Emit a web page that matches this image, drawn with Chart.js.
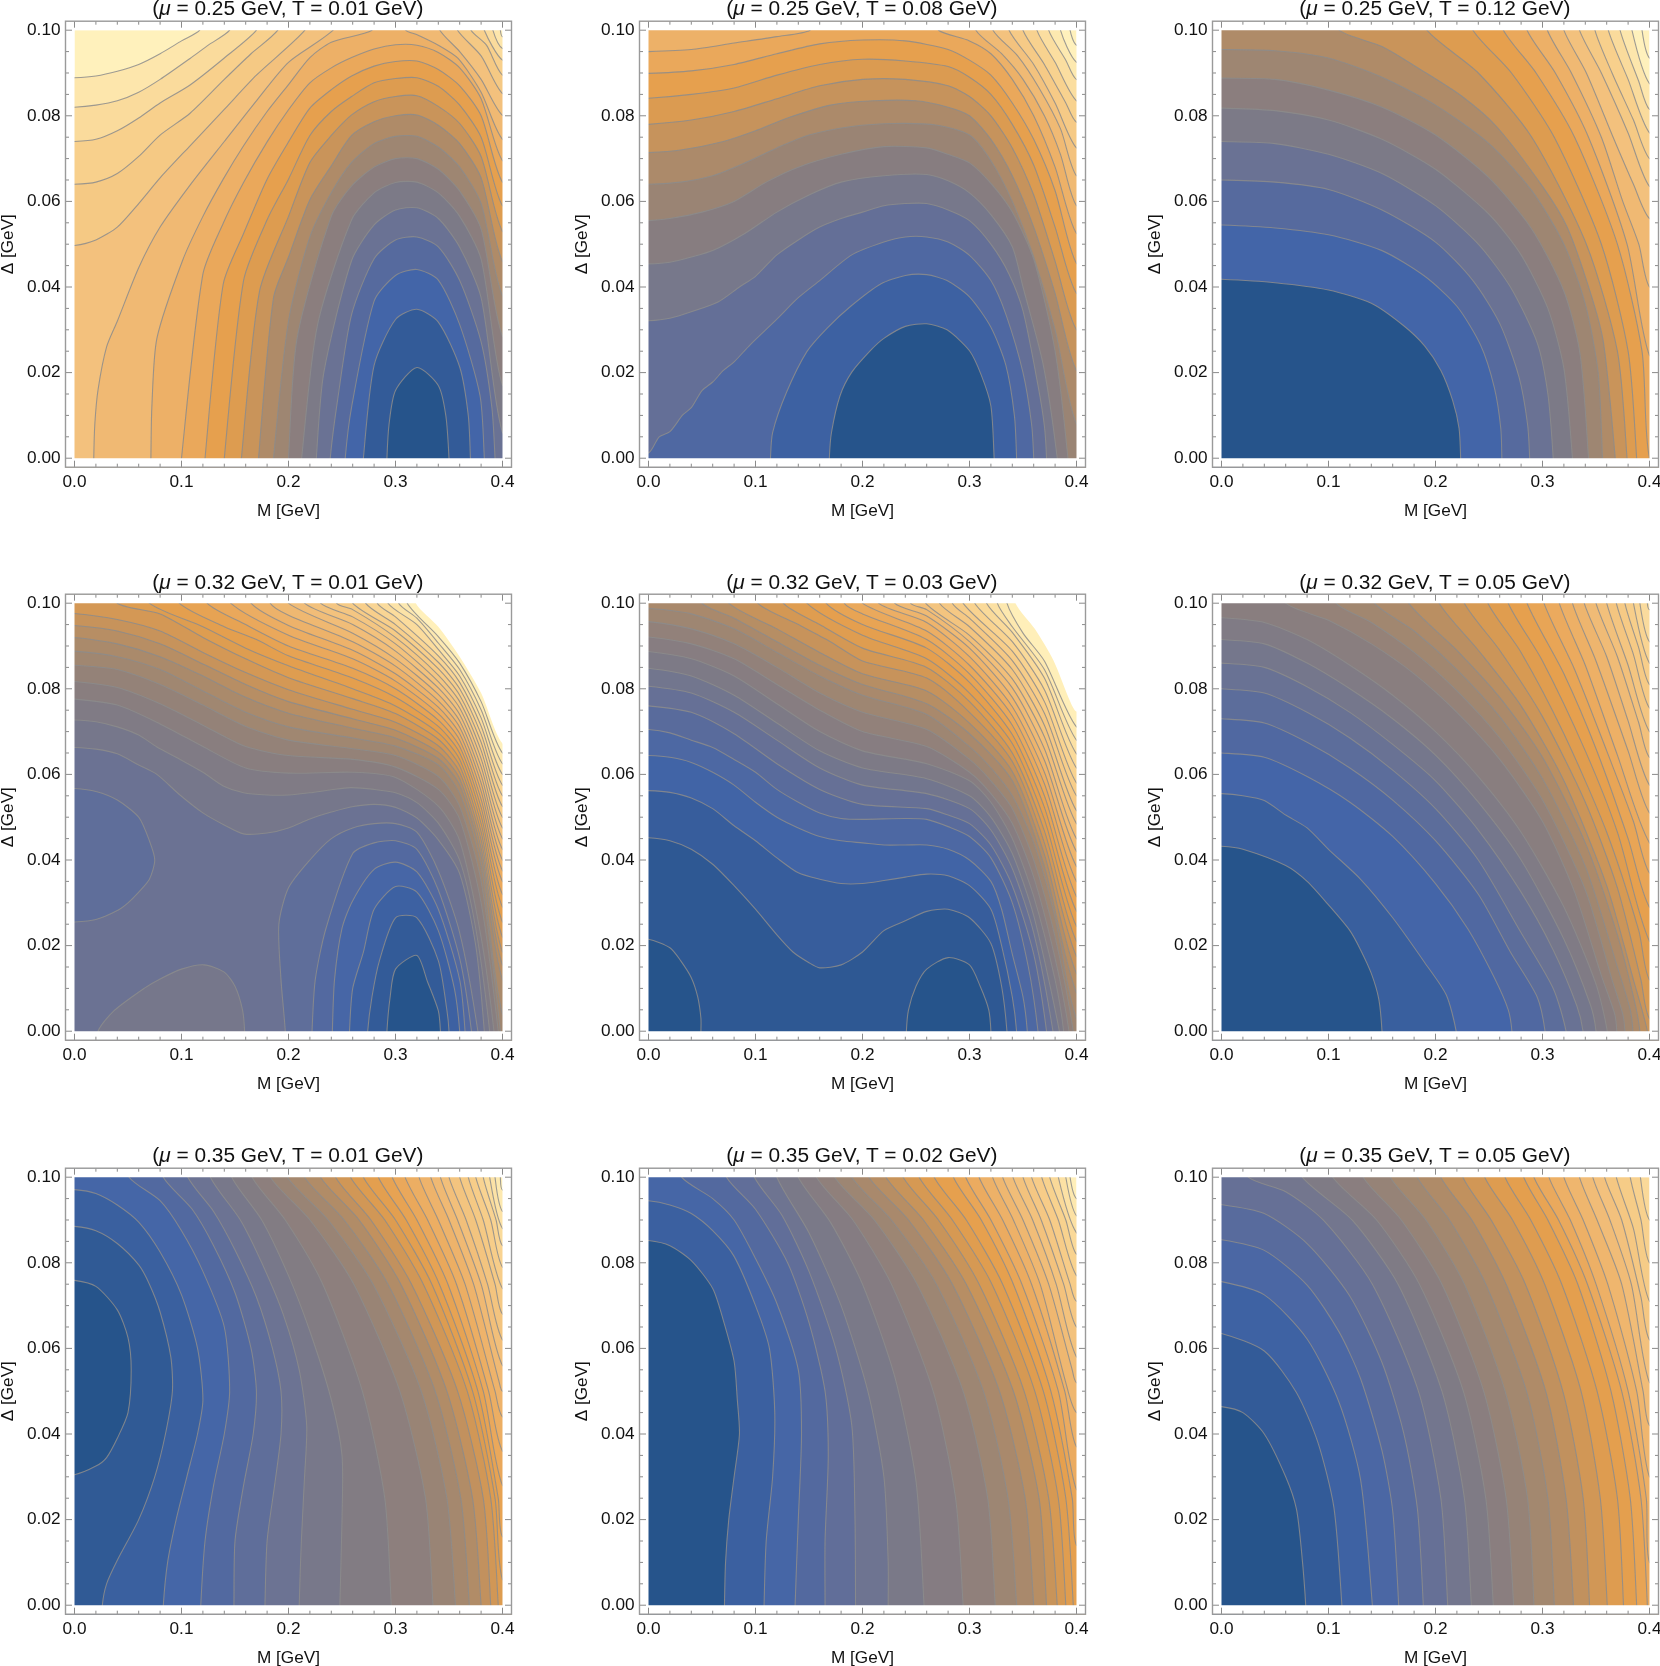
<!DOCTYPE html>
<html><head><meta charset="utf-8">
<script src="https://cdn.jsdelivr.net/npm/chart.js@4"></script>
<style>
html,body{margin:0;padding:0;background:#fff;width:1660px;height:1666px;overflow:hidden;position:relative}
canvas{position:absolute}
.ttl{position:absolute;width:446px;height:26px;line-height:26px;text-align:center;font:20.9px/26px "Liberation Sans",Arial,sans-serif;color:#111;white-space:nowrap}
</style></head><body>
<script>
// ---------- panel parameters ----------
const muValues=[0.25,0.25,0.25,0.32,0.32,0.32,0.35,0.35,0.35];
const tValues=[0.01,0.08,0.12,0.01,0.03,0.05,0.01,0.02,0.05];
const xMajorTicks=[0,0.1,0.2,0.3,0.4];
const yMajorTicks=[0,0.02,0.04,0.06,0.08,0.1];
const xMinorTicks=[0.02,0.04,0.06,0.08,0.12,0.14,0.16,0.18,0.22,0.24,0.26,0.28,0.32,0.34,0.36,0.38];
const yMinorTicks=[0.005,0.01,0.015,0.025,0.03,0.035,0.045,0.05,0.055,0.065,0.07,0.075,0.085,0.09,0.095];
const rampStops=[0,.05,.1,.15,.2,.25,.3,.35,.4,.45,.5,.55,.62,.72,.85,1];
const rampColors=['#26548b','#335b98','#4365a8','#566a9e','#6a7294','#7c7a87','#8b7e7e','#9e8672','#af8b68','#c9945a','#dd9c50','#e6a04e','#ebab60','#f1bd78','#f8d08c','#fff1bc'];
const bandFirst=[.05,.08,.1,.05,.03,.07,.04,.075,.05];
const bandStep=[.05,.052,.05,.0305,.032,.032,.033,.034,.035];

// ---------- contour readings: flat M,Delta lists, highest level first ----------
const contoursA=[
[0,.0889,.02,.0893,.04,.0904,.06,.092,.08,.0945,.1,.0975,.117,.1,.117,.103,.398,.103,.398,.1,.4,.0985],
[0,.082,.02,.0825,.04,.0835,.06,.0855,.08,.0885,.108,.0934,.125,.0965,.145,.1,.145,.103,.391,.103,.391,.1,.4,.0957],
[0,.074,.02,.0745,.04,.0765,.06,.0795,.08,.083,.108,.0872,.14,.0935,.17,.1,.17,.103,.383,.103,.383,.1,.4,.093],
[0,.064,.02,.0645,.04,.0665,.06,.0705,.08,.0755,.108,.0806,.14,.0885,.165,.0945,.19,.1,.19,.103,.3706,.103,.3706,.1,.385,.0965,.4,.0895],
[0,.0497,.02,.051,.04,.054,.06,.0595,.08,.0655,.108,.073,.14,.0815,.17,.0895,.2153,.1,.2153,.103,.358,.103,.358,.1,.38,.094,.4,.0852],
[.018,0,.019,.008,.022,.016,.03,.026,.04,.032,.06,.0445,.08,.054,.108,.0638,.14,.074,.17,.0835,.2,.0925,.2417,.1,.2417,.103,.3415,.103,.3415,.1,.36,.095,.38,.0885,.4,.0801],
[.0714,0,.0723,.012,.077,.028,.101,.0462,.12,.0565,.139,.0652,.158,.073,.18,.081,.2,.0873,.22,.0936,.24,.0972,.278,.1,.278,.103,.3096,.103,.3096,.1,.3197,.099,.34,.0965,.3585,.0934,.38,.0855,.4,.0745],
[.1,0,.12,.043,.139,.0549,.158,.0644,.18,.0739,.2,.0814,.22,.0877,.24,.0912,.259,.0936,.28,.0956,.3,.0966,.32,.0965,.34,.0948,.36,.0912,.38,.084,.4,.0695],
[.122,0,.139,.0407,.158,.0525,.18,.0652,.2,.0739,.22,.0818,.24,.0861,.259,.0893,.28,.0916,.3,.0927,.32,.0928,.34,.0908,.36,.087,.38,.08,.4,.0645],
[.14,0,.158,.0415,.18,.0557,.2,.0652,.22,.0754,.24,.081,.259,.0845,.28,.0877,.3,.0887,.32,.0889,.34,.0869,.36,.0825,.38,.075,.4,.059],
[.156,0,.173,.0391,.2,.0565,.22,.0691,.24,.0754,.259,.0802,.28,.0833,.3,.0845,.32,.0847,.34,.0822,.36,.0782,.38,.0705,.4,.053],
[.172,0,.186,.0375,.2,.047,.22,.0604,.24,.0683,.259,.0754,.28,.0786,.3,.08,.32,.0802,.34,.0778,.36,.0735,.38,.0655,.4,.046],
[.186,0,.2,.032,.22,.0517,.24,.062,.259,.0691,.28,.0735,.3,.0752,.32,.0752,.34,.0727,.36,.068,.38,.0595,.4,.038],
[.2,0,.208,.028,.24,.0565,.259,.0636,.28,.068,.3,.07,.32,.07,.34,.0675,.36,.0624,.38,.0535,.4,.0285],
[.2123,0,.227,.031,.259,.0557,.28,.062,.3,.0644,.32,.0645,.34,.062,.36,.0565,.38,.0465,.4,.017],
[.226,0,.233,.02,.259,.0462,.28,.0545,.3,.058,.32,.0585,.34,.056,.36,.0493,.38,.0375,.4,.006],
[.239,0,.246,.0138,.259,.0336,.28,.0466,.3,.051,.32,.0517,.34,.0494,.36,.0415,.38,.0272,.39,.012,.393,0],
[.253,0,.259,.012,.28,.0367,.3,.0427,.32,.0441,.34,.0416,.36,.0312,.379,.0146,.383,0],
[.27,0,.28,.0217,.3,.0324,.32,.0348,.34,.0318,.36,.0213,.368,.01,.37,0],
[.292,0,.294,.008,.3,.0158,.32,.0212,.34,.017,.347,.01,.35,0]
];
const contoursB=[
[.394,.1,.4,.0965],
[.385,.1,.4,.0925],
[.374,.1,.39,.093,.4,.0885],
[.363,.1,.38,.0925,.4,.0835],
[.35,.1,.37,.092,.39,.083,.4,.0785],
[.337,.1,.36,.092,.38,.083,.4,.0725],
[.322,.1,.345,.094,.365,.0865,.385,.077,.4,.066],
[.306,.1,.33,.0945,.35,.0885,.37,.08,.385,.071,.4,.059],
[0,.095,.04,.0955,.08,.097,.12,.0985,.151,.1,.151,.103,.271,.103,.271,.1,.3,.0975,.32,.0945,.34,.0885,.36,.08,.38,.068,.4,.0525],
[0,.0899,.04,.0905,.08,.092,.12,.0945,.16,.0968,.2,.0977,.24,.0975,.28,.0955,.3,.093,.32,.0895,.34,.083,.36,.0745,.38,.0625,.4,.0455],
[0,.0841,.04,.085,.08,.0865,.12,.0895,.16,.092,.2,.0932,.24,.0928,.28,.0915,.3,.089,.32,.085,.34,.078,.36,.0685,.38,.054,.4,.0385],
[0,.078,.04,.079,.08,.081,.12,.084,.16,.087,.2,.0885,.24,.0885,.28,.087,.3,.0845,.32,.08,.34,.0725,.36,.0615,.38,.046,.4,.03],
[0,.0714,.03,.072,.07,.074,.1,.0765,.13,.0795,.17,.0825,.21,.0835,.25,.0835,.28,.082,.3,.08,.32,.0745,.34,.066,.36,.054,.38,.0385,.4,.0205],
[0,.064,.03,.0645,.06,.066,.09,.069,.12,.0725,.15,.0755,.19,.0775,.23,.0782,.27,.0778,.3,.0755,.32,.0695,.34,.06,.36,.047,.38,.03,.4,.008],
[0,.0555,.02,.056,.05,.0575,.08,.06,.11,.0645,.14,.068,.18,.071,.22,.0728,.26,.0725,.28,.071,.3,.069,.32,.0642,.34,.0575,.36,.0465,.38,.025,.392,0],
[0,.0454,.02,.0458,.04,.047,.06,.0485,.09,.0525,.12,.0575,.15,.0615,.18,.0645,.22,.066,.26,.0663,.28,.0648,.3,.062,.32,.0569,.34,.0494,.35,.04,.369,.0217,.382,0],
[0,.0321,.02,.0327,.04,.0342,.065,.0365,.085,.04,.1,.0425,.12,.0475,.14,.051,.16,.054,.18,.056,.2,.0575,.22,.059,.24,.0595,.26,.0595,.28,.058,.3,.0555,.32,.05,.337,.043,.35,.0344,.364,.017,.37,.0075,.372,0],
[0,.0012,.01,.005,.02,.0062,.032,.0101,.04,.0118,.05,.0158,.06,.0178,.07,.0205,.08,.0225,.095,.0265,.12,.0325,.14,.0375,.16,.0415,.19,.0475,.22,.0505,.24,.0517,.26,.0517,.28,.0505,.3,.0474,.32,.0415,.334,.0336,.35,.02,.358,.008,.36,0],
[.114,0,.116,.006,.129,.0154,.148,.0249,.167,.0304,.189,.0355,.217,.0407,.24,.0427,.26,.0429,.279,.0415,.3,.0377,.32,.0306,.334,.0217,.342,.0099,.344,0],
[.169,0,.171,.006,.179,.0146,.19,.0201,.208,.0253,.22,.028,.24,.0308,.26,.0314,.279,.03,.3,.0251,.311,.0194,.32,.0122,.323,0]
];
const contoursC=[
[.393,.1,.4,.0935],
[.3836,.1,.4,.0875],
[.3725,.1,.39,.088,.4,.0815],
[.3615,.1,.38,.0885,.4,.076],
[.349,.1,.365,.09,.385,.079,.4,.07],
[.3346,.1,.355,.09,.38,.076,.4,.0635],
[.32,.1,.341,.09,.366,.075,.385,.064,.4,.056],
[.3046,.1,.327,.09,.355,.075,.375,.06,.39,.05,.4,.04],
[.2856,.1,.312,.09,.343,.075,.379,.05,.4,.024],
[.2635,.1,.294,.09,.33,.075,.37,.05,.393,.025,.4,0],
[.235,.1,.271,.09,.311,.075,.355,.05,.38,.025,.388,0],
[.192,.1,.24,.09,.29,.075,.341,.05,.37,.025,.379,0],
[.11,.1,.15,.0962,.188,.0905,.225,.0845,.257,.0775,.3,.0635,.323,.054,.345,.0385,.357,.027,.368,0],
[0,.0955,.05,.0952,.1,.0935,.15,.089,.2,.0825,.25,.0735,.29,.0625,.32,.05,.34,.036,.352,.02,.356,0],
[0,.0888,.05,.0885,.1,.086,.15,.082,.2,.0755,.25,.0655,.29,.0535,.32,.039,.335,.0245,.343,0],
[0,.0818,.05,.0812,.1,.079,.15,.0745,.2,.0675,.25,.057,.28,.0475,.305,.035,.32,.021,.328,0],
[0,.074,.05,.0735,.1,.071,.15,.0665,.2,.059,.24,.05,.27,.04,.295,.027,.305,.015,.31,0],
[0,.065,.05,.0645,.1,.0628,.15,.058,.2,.0505,.235,.0415,.26,.0315,.278,.019,.286,.008,.288,0],
[0,.0545,.05,.0538,.1,.0522,.15,.0485,.19,.0425,.22,.0355,.242,.0265,.255,.0165,.261,.007,.262,0],
[0,.0418,.05,.041,.1,.0393,.14,.0362,.17,.031,.19,.0262,.205,.0205,.216,.0135,.222,.007,.2235,0]
];
const contoursD=[
[.319,.1,.34,.0945,.36,.0875,.38,.079,.4,.0672],
[.311,.1,.34,.0922,.36,.086,.38,.077,.4,.065],
[.303,.1,.32,.0965,.34,.0907,.36,.0845,.38,.0751,.4,.0625],
[.293,.1,.32,.095,.34,.0892,.36,.083,.38,.0732,.4,.06],
[.283,.1,.3,.0968,.34,.0877,.36,.0815,.38,.0713,.4,.0575],
[.272,.1,.3,.095,.34,.0862,.36,.08,.38,.0694,.4,.055],
[.26,.1,.3,.0935,.34,.0847,.36,.0785,.38,.0675,.4,.0525],
[.245,.1,.26,.0985,.3,.092,.34,.0832,.36,.077,.38,.0656,.4,.05],
[.23,.1,.26,.0968,.3,.0905,.34,.0817,.36,.0755,.38,.0637,.4,.0475],
[.215,.1,.26,.095,.3,.0888,.34,.0802,.36,.074,.38,.0618,.4,.045],
[.2,.1,.26,.093,.3,.087,.34,.0787,.36,.0725,.38,.0599,.4,.0425],
[.183,.1,.2,.0972,.26,.091,.3,.0853,.34,.0772,.36,.071,.38,.058,.4,.04],
[.165,.1,.2,.0948,.26,.089,.3,.0835,.34,.0757,.36,.0695,.38,.0561,.4,.0375],
[.146,.1,.2,.0925,.26,.087,.3,.0818,.34,.0742,.36,.068,.38,.0542,.4,.035],
[.124,.1,.16,.095,.2,.09,.26,.0848,.3,.08,.34,.0727,.36,.0665,.38,.0523,.4,.032],
[.098,.1,.14,.0945,.17,.0915,.2,.0877,.26,.0825,.3,.078,.34,.0712,.36,.065,.38,.0504,.4,.029],
[.07,.1,.12,.0945,.16,.0895,.2,.0854,.26,.08,.3,.076,.34,.0697,.36,.0635,.38,.0485,.4,.0255],
[.04,.1,.08,.0975,.12,.092,.16,.087,.2,.0826,.26,.0777,.3,.0742,.34,.0682,.36,.062,.38,.0466,.4,.022],
[0,.0976,.04,.0962,.08,.0935,.12,.0885,.16,.0838,.2,.0798,.26,.0752,.3,.0722,.34,.0667,.36,.0605,.38,.0447,.4,.0185],
[0,.0948,.04,.0935,.08,.0905,.12,.0858,.16,.081,.2,.077,.26,.073,.3,.0703,.34,.0652,.36,.059,.38,.0428,.4,.0155],
[0,.092,.04,.0905,.08,.0875,.12,.083,.16,.078,.2,.0743,.26,.0708,.3,.0685,.34,.0637,.36,.0575,.38,.0409,.4,.012],
[0,.0888,.04,.0875,.08,.0845,.12,.0795,.16,.0745,.2,.0711,.26,.0685,.3,.0666,.34,.0622,.36,.0555,.38,.0385,.4,.004],
[0,.0855,.04,.0845,.08,.081,.12,.0762,.16,.0712,.2,.068,.26,.066,.3,.0644,.34,.0595,.36,.0525,.38,.035,.398,0],
[0,.0817,.04,.0803,.08,.0765,.12,.0715,.16,.0665,.2,.0644,.26,.0635,.3,.0617,.34,.0565,.36,.0495,.38,.03,.396,0],
[0,.0776,.04,.0762,.08,.0718,.12,.0665,.16,.0615,.2,.0603,.26,.0605,.3,.0593,.34,.0526,.36,.0445,.38,.022,.392,0],
[0,.0727,.02,.0723,.04,.0711,.06,.0692,.077,.0664,.098,.0636,.12,.0605,.139,.0573,.158,.0557,.18,.0552,.2,.0552,.22,.0557,.24,.0564,.258,.0569,.28,.0565,.3,.0557,.32,.0534,.34,.0486,.36,.0399,.375,.024,.388,0],
[0,.0663,.02,.0659,.04,.0648,.06,.0622,.077,.06,.098,.0553,.12,.051,.139,.0483,.158,.0461,.18,.0463,.2,.0475,.22,.0496,.24,.0512,.258,.0524,.28,.053,.3,.0523,.32,.0498,.34,.0447,.36,.0368,.375,.02,.383,0],
[.022,0,.037,.0048,.065,.01,.08,.0122,.1,.0145,.121,.0155,.14,.0138,.15,.0105,.157,.005,.159,0],
[.197,0,.193,.012,.191,.025,.2,.0335,.22,.04,.24,.045,.26,.0475,.28,.0485,.3,.0485,.32,.0465,.34,.0375,.36,.023,.377,0],
[0,.0567,.02,.056,.04,.054,.06,.05,.07,.0445,.075,.04,.07,.0355,.06,.0325,.05,.03,.04,.0282,.02,.0261,0,.0255],
[.222,0,.225,.012,.235,.024,.26,.0415,.28,.044,.3,.0445,.32,.0425,.34,.033,.36,.017,.371,0],
[.241,0,.243,.012,.25,.024,.26,.0305,.28,.0378,.3,.0395,.32,.0372,.34,.0285,.36,.012,.365,0],
[.257,0,.26,.01,.27,.0185,.28,.0285,.3,.0338,.32,.0325,.34,.0235,.355,.01,.36,0],
[.274,0,.278,.008,.285,.0165,.3,.0265,.32,.0265,.34,.0165,.348,.005,.35,0],
[.292,0,.295,.008,.3,.0145,.32,.0177,.33,.0115,.34,.0048,.342,0]
];
const bandsD=[32,31,30,29,28,27,26,25,24,23,22,21,20,19,18,17,16,15,14,13,12,11,10,9,8,7,6,7,5,5,4,3,2,1,0];
const contoursE=[
[.343,.1,.361,.094,.3785,.0866,.394,.0771,.4,.0747],
[.335,.1,.35,.093,.37,.0865,.4,.0711],
[.326,.1,.34,.0945,.37,.0845,.4,.068],
[.316,.1,.34,.0932,.37,.0825,.4,.0648],
[.305,.1,.34,.091,.37,.0798,.4,.0615],
[.294,.1,.34,.0888,.37,.077,.4,.058],
[.284,.1,.3,.0965,.34,.0866,.37,.0743,.4,.055],
[.272,.1,.3,.0945,.34,.0845,.37,.0715,.4,.0515],
[.259,.1,.3,.0925,.34,.0823,.37,.0688,.4,.0485],
[.245,.1,.26,.0985,.3,.091,.34,.0802,.37,.066,.4,.045],
[.23,.1,.26,.097,.3,.0895,.34,.078,.37,.0633,.4,.042],
[.215,.1,.26,.0955,.3,.0875,.34,.0758,.37,.0605,.4,.0385],
[.2,.1,.26,.0935,.3,.0855,.34,.0737,.37,.0578,.4,.035],
[.183,.1,.2,.0975,.26,.0915,.3,.0835,.34,.0715,.37,.055,.4,.0315],
[.166,.1,.2,.095,.26,.0895,.3,.0815,.34,.0693,.37,.0523,.4,.028],
[.148,.1,.2,.0925,.26,.087,.3,.079,.34,.0672,.37,.0495,.4,.0245],
[.126,.1,.16,.095,.2,.0895,.26,.085,.3,.077,.34,.065,.37,.0468,.4,.021],
[.102,.1,.14,.095,.17,.091,.2,.0865,.26,.0825,.3,.0745,.34,.063,.37,.044,.4,.0175],
[.075,.1,.12,.094,.16,.0885,.2,.0835,.26,.0795,.3,.072,.34,.0607,.37,.0413,.4,.0135],
[.05,.1,.08,.0965,.12,.091,.16,.0855,.2,.081,.26,.0765,.3,.0695,.34,.0585,.37,.0385,.4,.009],
[0,.0988,.04,.0975,.08,.094,.12,.0885,.16,.083,.2,.0785,.26,.074,.3,.0665,.32,.0615,.34,.055,.36,.044,.38,.0265,.4,.003],
[0,.0957,.04,.094,.08,.0905,.12,.085,.16,.079,.2,.0745,.26,.0705,.3,.0635,.32,.0585,.34,.052,.36,.04,.38,.022,.397,0],
[0,.0921,.04,.0905,.08,.087,.12,.081,.16,.075,.2,.07,.26,.0665,.3,.0605,.32,.0555,.34,.0485,.36,.036,.38,.017,.393,0],
[0,.0887,.04,.087,.08,.083,.12,.0765,.16,.07,.2,.0655,.26,.0625,.3,.0585,.32,.0535,.34,.045,.36,.0315,.38,.012,.388,0],
[0,.0848,.04,.083,.08,.0785,.12,.072,.16,.0655,.2,.0615,.26,.059,.3,.055,.32,.05,.34,.0415,.36,.027,.384,0],
[0,.0806,.04,.079,.08,.0745,.12,.068,.16,.0615,.2,.0575,.26,.0555,.3,.052,.32,.047,.34,.038,.36,.023,.378,0],
[0,.076,.04,.0745,.08,.0695,.12,.0625,.16,.0565,.2,.053,.26,.052,.28,.0505,.3,.0485,.32,.0435,.34,.034,.36,.018,.372,0],
[0,.0705,.02,.0697,.04,.068,.06,.0663,.08,.0635,.1,.0605,.12,.0565,.14,.0535,.16,.051,.18,.0497,.2,.0495,.24,.0497,.26,.0495,.28,.0478,.3,.0455,.32,.0405,.34,.03,.355,.015,.364,0],
[0,.0644,.02,.064,.04,.0628,.06,.0605,.08,.0575,.1,.0535,.12,.05,.14,.0475,.16,.0455,.18,.0445,.2,.044,.22,.0435,.24,.0435,.26,.0435,.28,.0425,.3,.04,.32,.035,.33,.0285,.34,.018,.35,.008,.354,0],
[0,.0562,.02,.0558,.04,.0545,.06,.052,.08,.048,.1,.0445,.12,.0405,.14,.037,.16,.0355,.18,.0345,.2,.0345,.22,.0352,.24,.036,.26,.0367,.28,.0363,.3,.034,.32,.0285,.33,.02,.34,.008,.344,0],
[0,.0452,.02,.0445,.04,.0425,.06,.039,.08,.034,.1,.0285,.12,.0225,.135,.0185,.15,.016,.16,.0148,.18,.0155,.2,.0185,.22,.0235,.24,.0258,.26,.028,.28,.0285,.3,.0265,.32,.0205,.33,.0105,.335,0],
[.241,0,.243,.005,.25,.0105,.26,.0145,.28,.0172,.3,.0155,.31,.0105,.318,.005,.32,0],
[0,.0215,.02,.0195,.03,.0165,.04,.0125,.046,.008,.049,.003,.049,0]
];
const bandsE=[31,30,29,28,27,26,25,24,23,22,21,20,19,18,17,16,15,14,13,12,11,10,9,8,7,6,5,4,3,2,1,0,0];
const contoursF=[
[.398,.1,.4,.0985],
[.391,.1,.4,.091],
[.385,.1,.4,.086],
[.377,.1,.39,.0895,.4,.081],
[.369,.1,.385,.088,.4,.0755],
[.36,.1,.38,.0855,.4,.07],
[.35,.1,.37,.0875,.39,.072,.4,.064],
[.339,.1,.36,.0875,.38,.0725,.4,.0575],
[.328,.1,.35,.0865,.38,.0655,.4,.051],
[.3157,.1,.34,.0855,.37,.0645,.4,.044],
[.3014,.1,.33,.0845,.36,.0655,.385,.049,.4,.037],
[.2856,.1,.32,.0835,.35,.066,.38,.045,.4,.029],
[.268,.1,.3,.0865,.34,.0655,.37,.0465,.4,.021],
[.249,.1,.28,.0885,.32,.0695,.36,.0465,.39,.0235,.4,.012],
[.227,.1,.26,.089,.3,.0735,.34,.0535,.37,.0335,.392,.012,.4,.003],
[.2035,.1,.24,.089,.28,.076,.32,.0585,.36,.034,.385,.012,.398,0],
[.175,.1,.22,.089,.26,.078,.3,.064,.34,.044,.37,.0225,.386,.007,.391,0],
[.143,.1,.18,.0935,.22,.0845,.26,.0735,.3,.059,.34,.0385,.37,.015,.382,.005,.3845,0],
[.107,.1,.14,.0955,.18,.0885,.22,.0795,.26,.0685,.3,.054,.34,.033,.365,.012,.375,.004,.377,0],
[.06,.1,.1,.096,.14,.0905,.18,.0835,.22,.0745,.26,.0635,.3,.049,.33,.0325,.355,.013,.3675,.004,.3694,0],
[0,.0966,.04,.0955,.08,.0915,.12,.0855,.16,.0785,.2,.07,.24,.0595,.28,.0465,.32,.029,.35,.011,.3605,0],
[0,.0915,.04,.0905,.08,.086,.12,.08,.16,.073,.2,.0645,.24,.0535,.28,.04,.32,.0215,.345,.006,.35,0],
[0,.086,.04,.085,.08,.0805,.12,.0745,.16,.067,.2,.0585,.24,.047,.28,.0325,.31,.019,.332,.006,.3379,0],
[0,.08,.04,.079,.08,.0745,.12,.0685,.16,.061,.2,.052,.24,.04,.28,.023,.31,.01,.322,0],
[0,.073,.04,.072,.08,.0675,.12,.0615,.16,.054,.2,.0445,.24,.032,.27,.0185,.295,.008,.3024,0],
[0,.065,.04,.064,.08,.0595,.12,.0535,.16,.0455,.2,.0345,.23,.024,.255,.0125,.268,.005,.2714,0],
[0,.0555,.02,.055,.04,.0539,.06,.0505,.08,.0475,.1,.0425,.13,.0355,.16,.0265,.19,.016,.21,.0085,.2193,0],
[0,.0432,.02,.0425,.06,.0387,.08,.035,.1,.0295,.12,.0235,.13,.019,.14,.0135,.147,.0075,.15,0]
];
const contoursG=[
[.398,.1,.4,.097],
[.393,.1,.4,.092],
[.388,.1,.4,.088],
[.382,.1,.394,.09,.4,.084],
[.375,.1,.389,.09,.4,.079],
[.368,.1,.382,.09,.4,.074],
[.36,.1,.375,.09,.393,.075,.4,.068],
[.35,.1,.366,.09,.386,.075,.4,.062],
[.342,.1,.358,.09,.38,.075,.4,.056],
[.333,.1,.35,.09,.373,.075,.397,.052,.4,.05],
[.322,.1,.34,.09,.365,.075,.393,.05,.4,.044],
[.309,.1,.33,.09,.357,.075,.387,.05,.4,.036],
[.297,.1,.32,.09,.349,.075,.382,.05,.4,.028],
[.284,.1,.31,.09,.341,.075,.377,.05,.396,.025,.4,.016],
[.27,.1,.3,.09,.334,.075,.372,.05,.393,.025,.4,.006],
[.258,.1,.29,.09,.326,.075,.367,.05,.389,.025,.396,0],
[.244,.1,.277,.09,.315,.075,.358,.05,.382,.025,.389,0],
[.23,.1,.266,.09,.305,.075,.348,.05,.372,.025,.38,0],
[.215,.1,.252,.09,.293,.075,.337,.05,.361,.025,.369,0],
[.199,.1,.237,.09,.279,.075,.324,.05,.348,.025,.356,0],
[.183,.1,.22,.09,.261,.075,.304,.05,.328,.025,.335,0],
[.166,.1,.197,.09,.232,.075,.269,.05,.29,.025,.296,0],
[.147,.1,.175,.09,.2,.077,.22,.064,.24,.048,.25,.035,.25,.02,.248,0],
[.127,.1,.155,.09,.175,.08,.195,.068,.21,.055,.217,.042,.215,.03,.212,.015,.21,0],
[.106,.1,.13,.092,.15,.083,.17,.072,.185,.06,.193,.05,.193,.04,.187,.028,.18,.015,.178,0],
[.083,.1,.11,.0925,.13,.084,.15,.073,.165,.06,.17,.05,.167,.04,.158,.028,.15,.015,.149,0],
[.051,.1,.08,.0945,.1,.0875,.12,.078,.14,.065,.145,.05,.14,.04,.13,.028,.122,.015,.118,0],
[0,.0971,.02,.0962,.04,.0935,.06,.0895,.08,.0825,.1,.0725,.115,.06,.12,.048,.115,.04,.105,.03,.095,.02,.087,.01,.083,0],
[0,.0885,.02,.0875,.04,.0845,.06,.0795,.07,.075,.08,.0685,.09,.058,.0915,.05,.085,.04,.075,.03,.06,.02,.04,.0105,.03,.005,.026,0],
[0,.0759,.02,.0745,.04,.069,.05,.0625,.053,.055,.05,.045,.04,.039,.03,.0345,.02,.0325,0,.0305]
];
const contoursH=[
[.394,.1,.4,.095],
[.39,.1,.4,.091],
[.383,.1,.4,.087],
[.375,.1,.39,.09,.4,.082],
[.3675,.1,.383,.09,.4,.077],
[.358,.1,.375,.09,.394,.075,.4,.071],
[.35,.1,.367,.09,.388,.075,.4,.065],
[.3406,.1,.359,.09,.381,.075,.4,.058],
[.331,.1,.35,.09,.374,.075,.396,.055,.4,.052],
[.3216,.1,.341,.09,.366,.075,.39,.052,.4,.045],
[.309,.1,.331,.09,.358,.075,.389,.05,.4,.037],
[.2965,.1,.32,.09,.349,.075,.383,.05,.4,.027],
[.285,.1,.311,.09,.341,.075,.376,.05,.396,.025,.4,.014],
[.267,.1,.297,.09,.331,.075,.369,.05,.39,.025,.397,0],
[.253,.1,.284,.09,.321,.075,.361,.05,.383,.025,.39,0],
[.238,.1,.271,.09,.309,.075,.351,.05,.374,.025,.382,0],
[.222,.1,.257,.09,.297,.075,.341,.05,.365,.025,.372,0],
[.206,.1,.243,.09,.284,.075,.328,.05,.352,.025,.36,0],
[.19,.1,.227,.09,.269,.075,.313,.05,.336,.025,.344,0],
[.174,.1,.211,.09,.251,.075,.294,.05,.317,.025,.324,0],
[.157,.1,.191,.09,.227,.075,.266,.05,.287,.025,.294,0],
[.14,.1,.17,.0895,.2,.075,.23,.0535,.25,.029,.2575,0],
[.12,.1,.15,.087,.18,.07,.205,.05,.22,.03,.224,.01,.224,0],
[.099,.1,.125,.091,.15,.078,.175,.06,.19,.042,.193,.02,.1935,0],
[.073,.1,.1,.0925,.13,.08,.15,.066,.165,.05,.168,.035,.165,.015,.165,0],
[.031,.1,.06,.095,.08,.09,.1,.081,.12,.0705,.14,.055,.143,.04,.14,.02,.137,0],
[0,.0945,.02,.0935,.04,.0915,.06,.0875,.08,.0815,.1,.07,.113,.06,.118,.045,.116,.03,.11,.015,.108,0],
[0,.0852,.02,.084,.04,.0805,.06,.074,.07,.0665,.08,.057,.083,.048,.085,.04,.08,.03,.075,.02,.072,.01,.071,0]
];
const contoursI=[
[.3915,.1,.4,.09],
[.382,.1,.392,.09,.4,.08],
[.369,.1,.385,.088,.4,.071],
[.358,.1,.374,.09,.392,.072,.4,.062],
[.347,.1,.363,.09,.383,.075,.4,.052],
[.3346,.1,.351,.09,.374,.075,.394,.05,.4,.042],
[.32,.1,.338,.09,.361,.075,.388,.05,.4,.03],
[.306,.1,.326,.09,.35,.075,.38,.05,.397,.025,.4,.01],
[.292,.1,.315,.09,.342,.075,.374,.05,.392,.025,.398,0],
[.2825,.1,.305,.09,.333,.075,.364,.05,.382,.025,.388,0],
[.265,.1,.289,.09,.318,.075,.351,.05,.37,.025,.3757,0],
[.246,.1,.272,.09,.302,.075,.336,.05,.354,.025,.3605,0],
[.2256,.1,.252,.09,.284,.075,.319,.05,.338,.025,.344,0],
[.205,.1,.234,.09,.266,.075,.303,.05,.322,.025,.329,0],
[.183,.1,.213,.09,.247,.075,.285,.05,.305,.025,.311,0],
[.1577,.1,.191,.09,.227,.075,.265,.05,.286,.025,.292,0],
[.1324,.1,.168,.09,.206,.075,.245,.05,.266,.025,.273,0],
[.104,.1,.145,.09,.185,.075,.226,.05,.247,.025,.254,0],
[.0755,.1,.122,.09,.165,.075,.206,.05,.227,.025,.2335,0],
[.025,.1,.06,.0966,.095,.09,.141,.075,.184,.05,.205,.025,.2114,0],
[0,.0936,.04,.0915,.08,.0845,.12,.0722,.15,.0567,.17,.0405,.183,.0227,.1886,0],
[0,.0854,.04,.0829,.08,.0748,.11,.0638,.13,.0529,.15,.0361,.16,.022,.1656,0],
[0,.0756,.04,.0725,.08,.0622,.11,.0473,.13,.0293,.141,0],
[0,.0635,.04,.0594,.07,.0497,.09,.0381,.105,.0229,.1125,0],
[0,.0464,.02,.045,.04,.04,.06,.03,.07,.0225,.075,.012,.0787,0]
];
const allContours=[contoursA,contoursB,contoursC,contoursD,contoursE,contoursF,contoursG,contoursH,contoursI];
const allBands={3:bandsD,4:bandsE};
const clippedTop={3:true,4:true}; // panels whose highest contour ends the plotted region

// ---------- layout ----------
const M_MAX=.4,D_MAX=.1,M_PAD=.00841,D_PAD=.0021,M_OUT=.02,D_OUT=.005;
const colLeft=[-2,572,1145],rowTop=[0,573,1147],titleCy=[8,581.5,1154.6];
const hex=c=>[1,3,5].map(i=>parseInt(c.substr(i,2),16));
function ramp(t){
  t=Math.min(1,Math.max(0,t));
  let i=0;while(i<rampStops.length-2&&t>rampStops[i+1])i++;
  const f=(t-rampStops[i])/(rampStops[i+1]-rampStops[i]),a=hex(rampColors[i]),b=hex(rampColors[i+1]);
  return 'rgb('+a.map((v,k)=>Math.round(v+(b[k]-v)*f)).join(',')+')';
}
function perim(p){
  if(p.x<=0)return p.y/D_MAX;
  if(p.y>=D_MAX)return 1+p.x/M_MAX;
  if(p.x>=M_MAX)return 2+(D_MAX-p.y)/D_MAX;
  return 3+(M_MAX-p.x)/M_MAX;
}
const outside=p=>({x:p.x<=0?-M_OUT:p.x>=M_MAX?M_MAX+M_OUT:p.x,y:p.y<=0?-D_OUT:p.y>=D_MAX?D_MAX+D_OUT:p.y});
const cornerPts=[{x:-M_OUT,y:D_MAX+D_OUT},{x:M_MAX+M_OUT,y:D_MAX+D_OUT},{x:M_MAX+M_OUT,y:-D_OUT},{x:-M_OUT,y:-D_OUT}];
function polygon(flat){
  const pts=[];for(let i=0;i<flat.length;i+=2)pts.push({x:flat[i],y:flat[i+1]});
  const first=pts[0],last=pts[pts.length-1],out=[outside(first),...pts,outside(last)];
  const sEnd=perim(last);let sStart=perim(first);if(sStart<sEnd)sStart+=4;
  for(let c=1;c<=8;c++)if(c>sEnd&&c<sStart)out.push(cornerPts[(c-1)%4]);
  out.push(outside(first));
  return out;
}
const framePlugin={id:'frame',
  beforeDatasetsDraw(ch,a,o){
    if(!o.background)return;
    const {x,y}=ch.scales,c=ch.ctx;
    c.save();c.fillStyle=o.background;
    c.fillRect(x.getPixelForValue(0),y.getPixelForValue(D_MAX),x.getPixelForValue(M_MAX)-x.getPixelForValue(0),y.getPixelForValue(0)-y.getPixelForValue(D_MAX));
    c.restore();
  },
  afterDatasetsDraw(ch){
    const {x,y}=ch.scales,c=ch.ctx,A=ch.chartArea;
    const l=x.getPixelForValue(0),r=x.getPixelForValue(M_MAX),t=y.getPixelForValue(D_MAX),b=y.getPixelForValue(0);
    c.save();
    c.fillStyle='#fff';c.beginPath();
    c.rect(A.left,A.top,A.right-A.left,A.bottom-A.top);c.rect(l,t,r-l,b-t);c.fill('evenodd');
    c.strokeStyle='#8a8a8a';c.lineWidth=1;c.beginPath();
    const vt=(v,len)=>{const p=x.getPixelForValue(v);c.moveTo(p,A.bottom);c.lineTo(p,A.bottom-len);c.moveTo(p,A.top);c.lineTo(p,A.top+len);};
    const ht=(v,len)=>{const p=y.getPixelForValue(v);c.moveTo(A.left,p);c.lineTo(A.left+len,p);c.moveTo(A.right,p);c.lineTo(A.right-len,p);};
    xMajorTicks.forEach(v=>vt(v,6.5));xMinorTicks.forEach(v=>vt(v,3.5));
    yMajorTicks.forEach(v=>ht(v,6.5));yMinorTicks.forEach(v=>ht(v,3.5));
    c.stroke();
    c.strokeStyle='#9a9a9a';c.lineWidth=1.4;c.strokeRect(A.left,A.top,A.right-A.left,A.bottom-A.top);
    c.restore();
  }};
Chart.register(framePlugin);
const font={family:'"Liberation Sans",Arial,sans-serif',size:17.2};
allContours.forEach((list,p)=>{
  const col=p%3,row=Math.floor(p/3);
  const cv=document.createElement('canvas');cv.width=530;cv.height=522;
  cv.style.left=colLeft[col]+'px';cv.style.top=rowTop[row]+'px';cv.style.width='530px';cv.style.height='522px';
  document.body.appendChild(cv);
  const ttl=document.createElement('div');ttl.className='ttl';
  ttl.style.left=(colLeft[col]+66.8)+'px';ttl.style.top=(titleCy[row]-13)+'px';
  ttl.innerHTML='(<i>μ</i> = '+muValues[p].toFixed(2)+' GeV, T = '+tValues[p].toFixed(2)+' GeV)';
  document.body.appendChild(ttl);
  const bandT=b=>b===0?0:bandFirst[p]+(b-1)*bandStep[p];
  const bands=allBands[p]||list.map((_,i)=>list.length-1-i);
  const clipped=!!clippedTop[p];
  const datasets=list.map((flat,i)=>({
    data:polygon(flat),showLine:true,pointRadius:0,tension:.25,fill:'shape',
    backgroundColor:ramp(bandT(bands[i])),
    borderColor:(clipped&&i===0)?'rgba(0,0,0,0)':'rgba(140,140,140,.85)',borderWidth:1.1
  })).reverse(); // Chart.js paints the last dataset first
  new Chart(cv,{type:'scatter',data:{datasets},options:{
    responsive:false,animation:false,devicePixelRatio:1,events:[],
    layout:{padding:{top:21.2,right:16.5,bottom:0,left:0}},
    plugins:{legend:{display:false},tooltip:{enabled:false},title:{display:false},
      filler:{propagate:false,drawTime:'beforeDatasetDraw'},
      frame:{background:clipped?null:ramp(bandT(list.length))}},
    scales:{
      x:{type:'linear',min:-M_PAD,max:M_MAX+M_PAD,grid:{display:false,drawTicks:false},border:{display:false},
        afterBuildTicks:s=>{s.ticks=xMajorTicks.map(v=>({value:v}));},afterFit:s=>{s.height=54.8;},
        ticks:{color:'#111',font,padding:4.3,autoSkip:false,maxRotation:0,minRotation:0,callback:v=>v.toFixed(1)},
        title:{display:true,text:'M [GeV]',color:'#111',font,padding:0}},
      y:{type:'linear',min:-D_PAD,max:D_MAX+D_PAD,grid:{display:false,drawTicks:false},border:{display:false},
        afterBuildTicks:s=>{s.ticks=yMajorTicks.map(v=>({value:v}));},afterFit:s=>{s.width=67.5;},
        ticks:{color:'#111',font,padding:5,autoSkip:false,callback:v=>v.toFixed(2)},
        title:{display:true,text:'Δ [GeV]',color:'#111',font,padding:0}}
    }}});
});
</script>
</body></html>
